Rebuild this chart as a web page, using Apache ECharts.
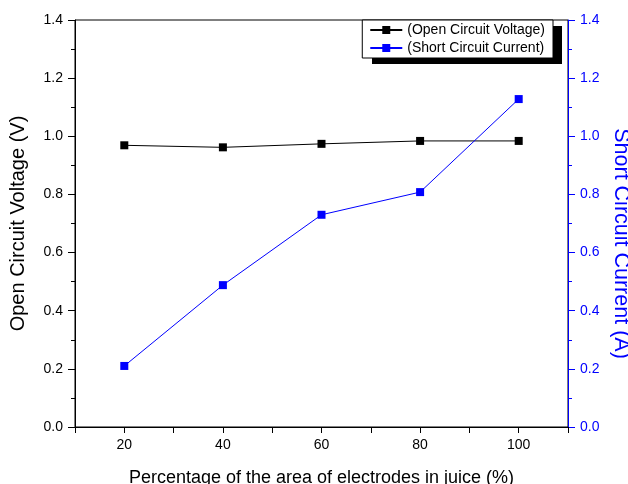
<!DOCTYPE html>
<html><head><meta charset="utf-8">
<script src="https://cdn.jsdelivr.net/npm/echarts@6/dist/echarts.min.js"></script>
<style>html,body{margin:0;padding:0;background:#fff}#c{width:628px;height:484px}</style>
</head><body><div id="c"></div>
<script>
var xValues = [20, 40, 60, 80, 100];
var voltage = [0.969, 0.962, 0.974, 0.984, 0.984];
var current = [0.21, 0.488, 0.73, 0.808, 1.128];
var xTickLabels = ['20', '40', '60', '80', '100'];

function pairs(xs, ys) { return xs.map(function (x, i) { return [x, ys[i]]; }); }
var F = 'Liberation Sans, Arial, sans-serif';
var chart = echarts.init(document.getElementById('c'), null, {renderer: 'canvas'});
chart.setOption({
  animation: false,
  backgroundColor: '#fff',
  grid: {left: 75, right: 60, top: 20, bottom: 57, containLabel: false, outerBoundsMode: 'none',
    show: true, borderColor: '#000', borderWidth: 1},
  graphic: [{
    type: 'rect', z: 1, shape: {x: 372, y: 26, width: 190, height: 38},
    style: {fill: '#000'}
  }],
  legend: {
    orient: 'vertical', right: 75, top: 20, align: 'left', z: 10,
    backgroundColor: '#fff', borderColor: '#000', borderWidth: 1,
    padding: [3, 8, 3, 7], itemGap: 4, itemWidth: 32, itemHeight: 10,
    textStyle: {fontFamily: F, fontSize: 14, color: '#000'},
    data: ['(Open Circuit Voltage)', '(Short Circuit Current)']
  },
  xAxis: {
    type: 'value', min: 10, max: 110, interval: 10,
    name: 'Percentage of the area of electrodes in juice (%)', nameLocation: 'middle', nameGap: 42,
    nameTextStyle: {fontFamily: F, fontSize: 18, color: '#000'},
    axisLine: {lineStyle: {color: '#000', width: 1}},
    axisTick: {inside: false, length: 6, lineStyle: {color: '#000'}},
    axisLabel: {fontFamily: F, fontSize: 14, color: '#000', margin: 11,
      formatter: function (v) { var s = String(v); return xTickLabels.indexOf(s) >= 0 ? s : ''; }},
    splitLine: {show: false}
  },
  yAxis: [{
    type: 'value', min: 0, max: 1.4, interval: 0.2, position: 'left',
    name: 'Open Circuit Voltage (V)', nameLocation: 'middle', nameGap: 47,
    nameTextStyle: {fontFamily: F, fontSize: 20, color: '#000'},
    axisLine: {show: true, lineStyle: {color: '#000', width: 1}},
    axisTick: {show: true, length: 7, lineStyle: {color: '#000'}},
    minorTick: {show: true, splitNumber: 2, length: 4, lineStyle: {color: '#000'}},
    axisLabel: {fontFamily: F, fontSize: 14, color: '#000', margin: 12, formatter: function (v) { return v.toFixed(1); }},
    splitLine: {show: false}
  }, {
    type: 'value', min: 0, max: 1.4, interval: 0.2, position: 'right',
    name: 'Short Circuit Current (A)', nameLocation: 'middle', nameGap: 35, nameRotate: -90,
    nameTextStyle: {fontFamily: F, fontSize: 21.5, color: '#0000ff', padding: [0, 0, 0, 40]},
    axisLine: {show: true, lineStyle: {color: '#0000ff', width: 1}},
    axisTick: {show: true, length: 7, lineStyle: {color: '#0000ff'}},
    minorTick: {show: true, splitNumber: 2, length: 4, lineStyle: {color: '#0000ff'}},
    axisLabel: {fontFamily: F, fontSize: 14, color: '#0000ff', margin: 12, formatter: function (v) { return v.toFixed(1); }},
    splitLine: {show: false}
  }],
  series: [{
    name: '(Open Circuit Voltage)', type: 'line', yAxisIndex: 0,
    data: pairs(xValues, voltage),
    symbol: 'rect', symbolSize: 8,
    itemStyle: {color: '#000'}, lineStyle: {color: '#000', width: 1}
  }, {
    name: '(Short Circuit Current)', type: 'line', yAxisIndex: 1,
    data: pairs(xValues, current),
    symbol: 'rect', symbolSize: 8,
    itemStyle: {color: '#0000ff'}, lineStyle: {color: '#0000ff', width: 1}
  }]
});
</script></body></html>
